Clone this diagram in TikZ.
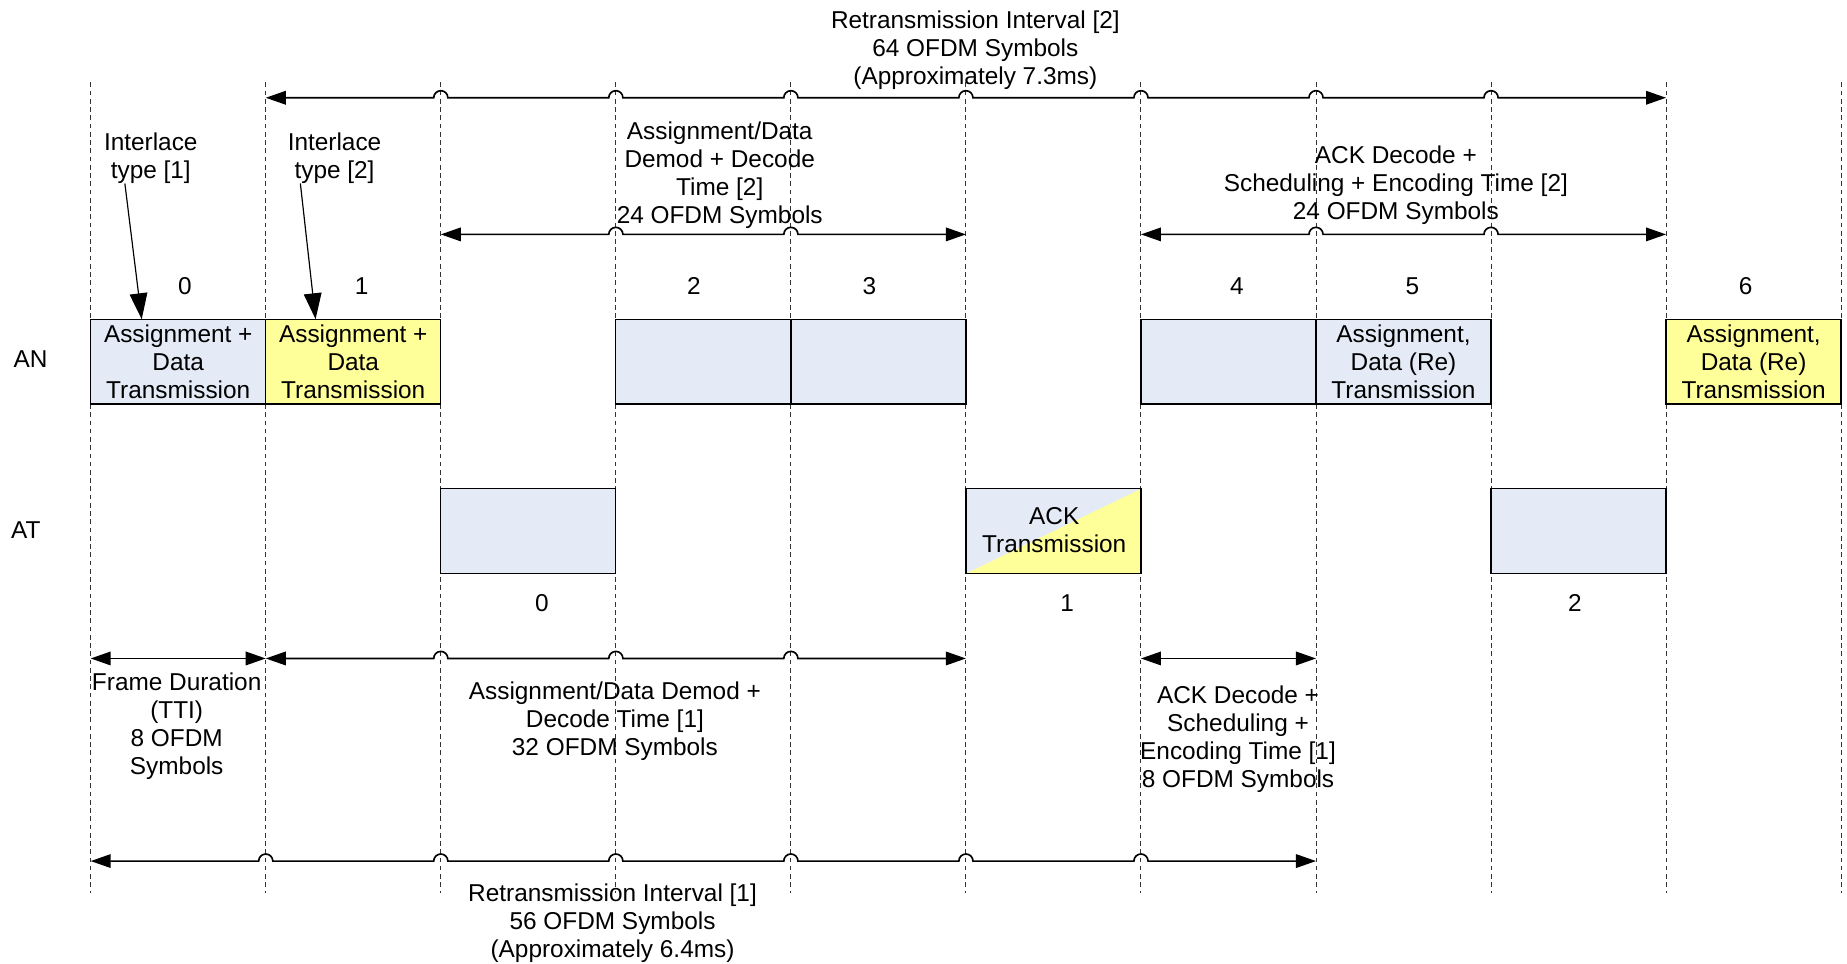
\documentclass[tikz,border=0pt]{standalone}
\usepackage{fontspec}
\setmainfont{Liberation Sans}
\usepackage{tikz}
\usetikzlibrary{arrows.meta,calc}
\definecolor{slotblue}{RGB}{228,235,247}
\definecolor{slotyellow}{RGB}{255,255,153}

\begin{document}
\begin{tikzpicture}[x=1pt,y=-1pt,
  every node/.style={font=\fontsize{20.7}{23.8}\selectfont,align=center,inner sep=0pt},
  slotline/.style={line width=0.8pt,dash pattern=on 4pt off 3pt,black!80},
  slot/.style={draw,line width=1.1pt,outer sep=0pt,minimum width=148.6pt,minimum height=72pt},
  dim/.style={line width=1.4pt,{Triangle[length=17pt,width=11.5pt]}-{Triangle[length=17pt,width=11.5pt]}},
  pointer/.style={line width=1pt,-{Triangle[length=22pt,width=15pt]}}]
\useasboundingbox (0,0) rectangle (1568,818);

\foreach \i in {0,...,10}{
  \coordinate (g\i) at ({77+148.6*\i},70);
  \coordinate (h\i) at ({77+148.6*\i},758);
  \draw[slotline] (g\i) -- (h\i);
}
\coordinate (lvA) at (0,83);
\coordinate (lvB) at (0,199);
\coordinate (lvC) at (0,559);
\coordinate (lvD) at (0,731);

\node[slot,fill=slotblue] (an0) at (151.3,307) {Assignment +\\Data\\Transmission};
\node[slot,fill=slotyellow] (an1) at (299.9,307) {Assignment +\\Data\\Transmission};
\node[slot,fill=slotblue] (an2) at (597.1,307) {};
\node[slot,fill=slotblue] (an3) at (745.7,307) {};
\node[slot,fill=slotblue] (an4) at (1042.9,307) {};
\node[slot,fill=slotblue] (an5) at (1191.5,307) {Assignment,\\Data (Re)\\Transmission};
\node[slot,fill=slotyellow] (an6) at (1488.7,307) {Assignment,\\Data (Re)\\Transmission};

\node[slot,fill=slotblue] (at0) at (448.5,451) {};
\node[slot,fill=slotblue] (at1) at (894.3,451) {};
\fill[slotyellow] (at1.south west) -- (at1.north east) -- (at1.south east) -- cycle;
\draw[line width=1.1pt] (at1.south west) rectangle (at1.north east);
\node (acktx) at (895,450) {ACK\\Transmission};
\node[slot,fill=slotblue] (at2) at (1340.1,451) {};

\node (lblAN) at (26,305) {AN};
\node (lblAT) at (22,450) {AT};
\foreach \n/\x in {0/157,1/307,2/589,3/738,4/1050,5/1199,6/1482}
  \node (num\n) at (\x,243) {\n};
\foreach \n/\x in {0/460,1/906,2/1337}
  \node (atnum\n) at (\x,512) {\n};

\node (il1) at (128,134) {Interlace\\type [1]};
\node (il2) at (284,134) {Interlace\\type [2]};
\draw[pointer] ($(il1.south)+(-22,0)$) -- ($(an0.north)+(-31,0)$);
\draw[pointer] ($(il2.south)+(-29,0)$) -- ($(an1.north)+(-32,0)$);

\draw[dim] (g1|-lvA) foreach \k in {2,...,8} {-- ($(g\k|-lvA)+(-6,0)$) arc[start angle=180,end angle=0,radius=6pt]} -- (g9|-lvA);
\draw[dim] (g2|-lvB) foreach \k in {3,4} {-- ($(g\k|-lvB)+(-6,0)$) arc[start angle=180,end angle=0,radius=6pt]} -- (g5|-lvB);
\draw[dim] (g6|-lvB) foreach \k in {7,8} {-- ($(g\k|-lvB)+(-6,0)$) arc[start angle=180,end angle=0,radius=6pt]} -- (g9|-lvB);
\draw[dim] (g0|-lvC) -- (g1|-lvC);
\draw[dim] (g1|-lvC) foreach \k in {2,3,4} {-- ($(g\k|-lvC)+(-6,0)$) arc[start angle=180,end angle=0,radius=6pt]} -- (g5|-lvC);
\draw[dim] (g6|-lvC) -- (g7|-lvC);
\draw[dim] (g0|-lvD) foreach \k in {1,...,6} {-- ($(g\k|-lvD)+(-6,0)$) arc[start angle=180,end angle=0,radius=6pt]} -- (g7|-lvD);

\node (ri2) at (828,43) {Retransmission Interval [2]\\64 OFDM Symbols\\(Approximately 7.3ms)};
\node (dd2) at (611,148.5) {Assignment/Data\\Demod + Decode\\Time [2]\\24 OFDM Symbols};
\node (ack2) at (1185,157.5) {ACK Decode +\\Scheduling + Encoding Time [2]\\24 OFDM Symbols};
\node (fd) at (150,616.5) {Frame Duration\\(TTI)\\8 OFDM\\Symbols};
\node (dd1) at (522,612.5) {Assignment/Data Demod +\\Decode Time [1]\\32 OFDM Symbols};
\node (ack1) at (1051,627.5) {ACK Decode +\\Scheduling +\\Encoding Time [1]\\8 OFDM Symbols};
\node (ri1) at (520,783.5) {Retransmission Interval [1]\\56 OFDM Symbols\\(Approximately 6.4ms)};
\end{tikzpicture}
\end{document}
